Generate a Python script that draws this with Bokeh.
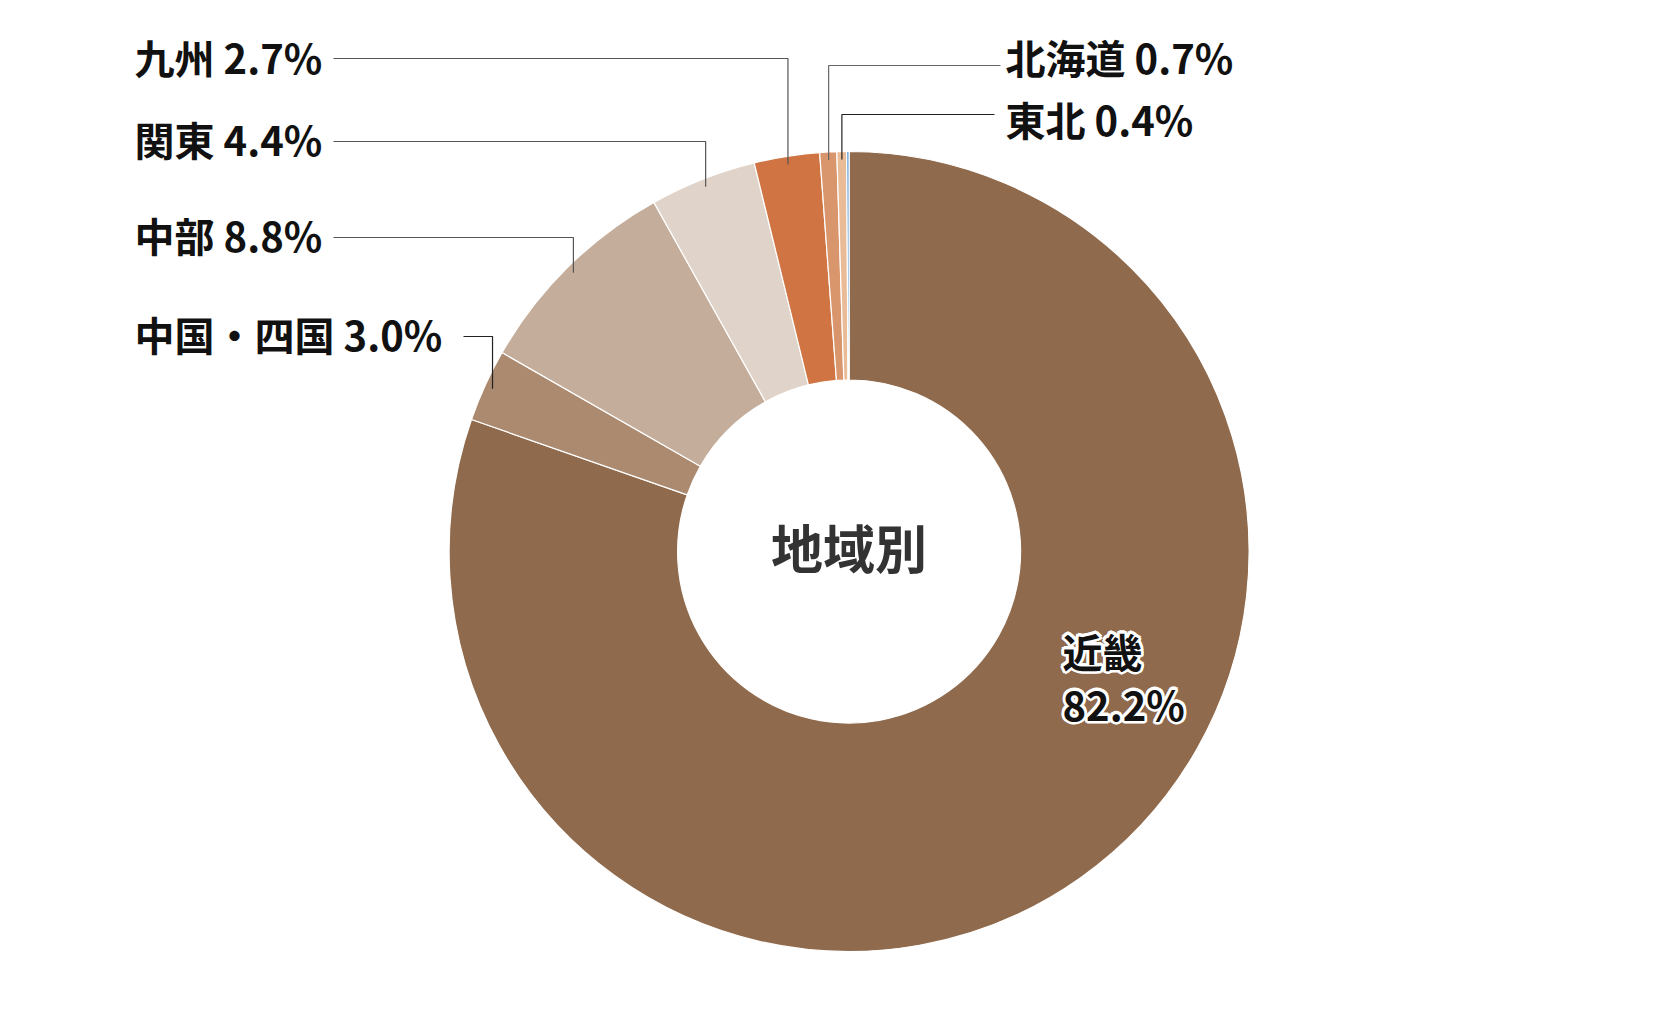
import math
from bokeh.plotting import figure
from bokeh.models import ColumnDataSource, Range1d
from bokeh.core.properties import value
from bokeh.embed import file_html
from bokeh.resources import INLINE

# regional breakdown, clockwise from 12 o'clock
regions = ["近畿", "中国・四国", "中部", "関東", "九州", "北海道", "東北", "その他"]
shares = [82.2, 3.0, 8.8, 4.4, 2.7, 0.7, 0.4, 0.1]
colors = ["#8F6A4C", "#AB8A70", "#C4AD9A", "#E0D4CA", "#CF7442", "#D9956B", "#E9BB97", "#5B9BD5"]
center_title = "地域別"

W, H = 1659, 1021
FONT = value("Noto Sans CJK JP")


def up(y):
    """screen-style y (top = 0) to plot y"""
    return H - y


cx, cy = 848.6, up(551.0)
r_out, r_in = 400, 171.5
r_tip = 392

total = sum(shares)
starts, ends, mids = [], [], []
acc = 0.0
for v in shares:
    a0 = math.pi / 2 - 2 * math.pi * acc / total
    a1 = math.pi / 2 - 2 * math.pi * (acc + v) / total
    starts.append(a0)
    ends.append(a1)
    mids.append((a0 + a1) / 2)
    acc += v

p = figure(width=W, height=H, x_range=Range1d(0, W), y_range=Range1d(0, H),
           output_backend="svg", toolbar_location=None, min_border=0,
           x_axis_location=None, y_axis_location=None)
p.grid.visible = False
p.outline_line_color = None
p.background_fill_color = "white"
p.border_fill_color = "white"

src = ColumnDataSource(dict(start=starts, end=ends, color=colors))
p.annular_wedge(x=cx, y=cy, inner_radius=r_in, outer_radius=r_out,
                start_angle="start", end_angle="end", direction="clock",
                fill_color="color", line_color="white", line_width=1.2, source=src)

# outside labels: text anchor (x, y), leader start x, leader y, leader colour (screen coords)
side_layout = {
    "中国・四国": (134, 333, 463, 336, "#222222"),
    "中部": (134, 234, 333, 237, "#555555"),
    "関東": (134, 138, 333, 141, "#555555"),
    "九州": (134, 56, 333, 58, "#555555"),
    "北海道": (1005, 56, 1000, 65, "#666666"),
    "東北": (1005, 118, 994, 114, "#222222"),
}

tx, ty, tt = [], [], []
for name, v, mid in zip(regions, shares, mids):
    if name not in side_layout:
        continue
    lx, ly, sx, lyl, lc = side_layout[name]
    tx.append(lx)
    ty.append(up(ly))
    tt.append(f"{name} {v:.1f}%")
    ex = cx + r_tip * math.cos(mid)
    ey = cy + r_tip * math.sin(mid)
    p.line([sx, ex, ex], [up(lyl), up(lyl), ey], line_color=lc, line_width=1.2)

p.text(x=tx, y=ty, text=tt, text_font=FONT, text_font_style="bold",
       text_font_size="40px", text_color="#111111",
       text_align="left", text_baseline="middle")

# label inside the largest slice, with a white halo behind it
big_x = [1062, 1062]
big_y = [up(650), up(703)]
big_text = [regions[0], f"{shares[0]:.1f}%"]
for k in range(12):
    ang = 2 * math.pi * k / 12
    p.text(x=big_x, y=big_y, text=big_text, text_font=FONT, text_font_style="bold",
           text_font_size="40px", text_color="white", text_outline_color="white",
           x_offset=2.2 * math.cos(ang), y_offset=2.2 * math.sin(ang),
           text_align="left", text_baseline="middle")
p.text(x=big_x, y=big_y, text=big_text, text_font=FONT, text_font_style="bold",
       text_font_size="40px", text_color="#111111",
       text_align="left", text_baseline="middle")

p.text(x=[cx], y=[cy + 5], text=[center_title], text_font=FONT, text_font_style="bold",
       text_font_size="52px", text_color="#333333",
       text_align="center", text_baseline="middle")

open("out.html", "w").write(file_html(p, INLINE))
